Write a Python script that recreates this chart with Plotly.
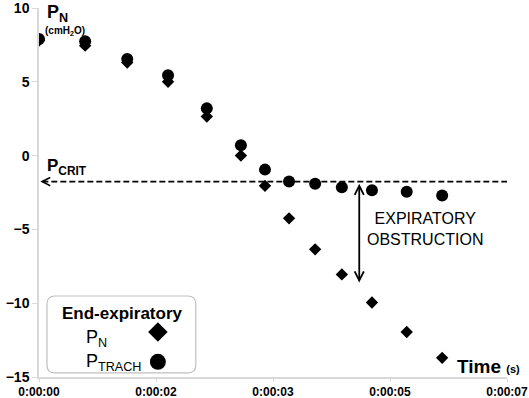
import plotly.graph_objects as go

# ---- data ----
time_s = [0.0, 0.69, 1.32, 1.93, 2.51, 3.02, 3.38, 3.74, 4.13, 4.53, 4.98, 5.50, 6.03]
p_n = [7.8, 7.45, 6.3, 5.0, 2.65, 0.0, -2.05, -4.25, -6.35, -8.05, -9.95, -11.95, -13.7]
p_trach = [7.9, 7.75, 6.55, 5.45, 3.2, 0.7, -0.95, -1.75, -1.9, -2.15, -2.35, -2.45, -2.7]
p_crit = -1.76
obstruction_x = 4.79
obstruction_bottom = -8.6

x_tickvals = [0, 1.75, 3.5, 5.25, 7]
x_ticktext = ["0:00:00", "0:00:02", "0:00:03", "0:00:05", "0:00:07"]
y_tickvals = [-15, -10, -5, 0, 5, 10]

FONT = "Arial, 'Liberation Sans', sans-serif"
GRAY = "#d9d9d9"

fig = go.Figure()
fig.add_trace(go.Scatter(x=time_s, y=p_n, mode="markers", name="PN",
                         marker=dict(symbol="diamond", size=9.5, color="black"),
                         showlegend=False))
fig.add_trace(go.Scatter(x=time_s, y=p_trach, mode="markers", name="PTRACH",
                         marker=dict(symbol="circle", size=12, color="black"),
                         showlegend=False))

# legend markers on an overlay axis in paper-like units
fig.add_trace(go.Scatter(x=[0.254], y=[0.122], xaxis="x2", yaxis="y2", mode="markers",
                         marker=dict(symbol="diamond", size=15, color="black"), showlegend=False))
fig.add_trace(go.Scatter(x=[0.254], y=[0.041], xaxis="x2", yaxis="y2", mode="markers",
                         marker=dict(symbol="circle", size=16, color="black"), showlegend=False))

# P_CRIT dashed line
fig.add_shape(type="line", x0=0.05, x1=7, y0=p_crit, y1=p_crit, xref="x", yref="y",
              line=dict(color="black", width=1.6, dash="6px,3px"))
fig.add_annotation(x=0.02, y=p_crit, ax=0.12, ay=p_crit, axref="x", ayref="y",
                   xref="x", yref="y", text="", showarrow=True, arrowhead=5,
                   arrowsize=1, arrowwidth=1.6, arrowcolor="black")
# expiratory obstruction double arrow
fig.add_annotation(x=obstruction_x, y=obstruction_bottom, ax=obstruction_x, ay=p_crit - 0.05,
                   axref="x", ayref="y", xref="x", yref="y", text="", showarrow=True,
                   arrowhead=5, startarrowhead=5, arrowside="end+start", arrowsize=1,
                   startarrowsize=1, arrowwidth=1.8, arrowcolor="black")

# texts
fig.add_annotation(x=0.09, y=9.6, xref="x", yref="y", xanchor="left", yanchor="middle",
                   text="<b>P<sub>N</sub></b>", showarrow=False,
                   font=dict(family=FONT, size=18, color="black"))
fig.add_annotation(x=0.06, y=8.45, xref="x", yref="y", xanchor="left", yanchor="middle",
                   text="<b>(cmH<sub>2</sub>O)</b>", showarrow=False,
                   font=dict(family=FONT, size=10, color="black"))
fig.add_annotation(x=0.09, y=-0.75, xref="x", yref="y", xanchor="left", yanchor="middle",
                   text="<b>P<sub>CRIT</sub></b>", showarrow=False,
                   font=dict(family=FONT, size=17, color="black"))
fig.add_annotation(x=5.77, y=-5.0, xref="x", yref="y", xanchor="center", yanchor="middle",
                   text="EXPIRATORY<br>OBSTRUCTION", showarrow=False,
                   font=dict(family=FONT, size=16, color="black"))
fig.add_annotation(x=6.22, y=-14.3, xref="x", yref="y", xanchor="left", yanchor="middle",
                   text="<b>Time <span style='font-size:11px'>(s)</span></b>", showarrow=False,
                   font=dict(family=FONT, size=19, color="black"))

# legend box (rounded) + texts
x0, x1, y0, y1 = 0.017, 0.335, 0.011, 0.2195
rx, ry = 8 / 468, 8 / 369
path = (f"M {x0+rx},{y0} L {x1-rx},{y0} Q {x1},{y0} {x1},{y0+ry} "
        f"L {x1},{y1-ry} Q {x1},{y1} {x1-rx},{y1} L {x0+rx},{y1} "
        f"Q {x0},{y1} {x0},{y1-ry} L {x0},{y0+ry} Q {x0},{y0} {x0+rx},{y0} Z")
fig.add_shape(type="path", path=path, xref="paper", yref="paper",
              line=dict(color="#bfbfbf", width=1.2), fillcolor="white", layer="below")
fig.add_annotation(x=0.178, y=0.173, xref="paper", yref="paper", xanchor="center",
                   yanchor="middle", text="<b>End-expiratory</b>", showarrow=False,
                   font=dict(family=FONT, size=17, color="black"))
fig.add_annotation(x=0.097, y=0.104, xref="paper", yref="paper", xanchor="left",
                   yanchor="middle", text="P<sub>N</sub>", showarrow=False,
                   font=dict(family=FONT, size=18, color="black"))
fig.add_annotation(x=0.097, y=0.040, xref="paper", yref="paper", xanchor="left",
                   yanchor="middle", text="P<sub>TRACH</sub>", showarrow=False,
                   font=dict(family=FONT, size=18, color="black"))

fig.update_layout(
    width=529, height=398,
    margin=dict(l=39, r=22, t=8, b=21),
    paper_bgcolor="white", plot_bgcolor="white",
    showlegend=False,
    font=dict(family=FONT, color="black"),
    xaxis=dict(range=[0, 7], tickvals=x_tickvals, ticktext=x_ticktext, automargin=False,
               ticklabeloverflow="allow",
               showgrid=False, zeroline=False, showline=True, linecolor=GRAY, linewidth=1.5,
               ticks="outside", ticklen=3, tickcolor=GRAY, tickwidth=1,
               tickfont=dict(family=FONT, size=12, color="black", weight="bold")),
    yaxis=dict(range=[-15, 10], tickvals=y_tickvals, automargin=False,
               ticklabeloverflow="allow",
               showgrid=False, zeroline=False, showline=True, linecolor=GRAY, linewidth=1.5,
               ticks="outside", ticklen=5, tickcolor=GRAY, tickwidth=1,
               tickfont=dict(family=FONT, size=14, color="black", weight="bold")),
    xaxis2=dict(range=[0, 1], overlaying="x", visible=False, automargin=False),
    yaxis2=dict(range=[0, 1], overlaying="y", visible=False, automargin=False),
)

fig.write_html("out.html", config={"displayModeBar": False},
               post_script="document.body.style.margin='0';document.body.style.overflow='hidden';")
